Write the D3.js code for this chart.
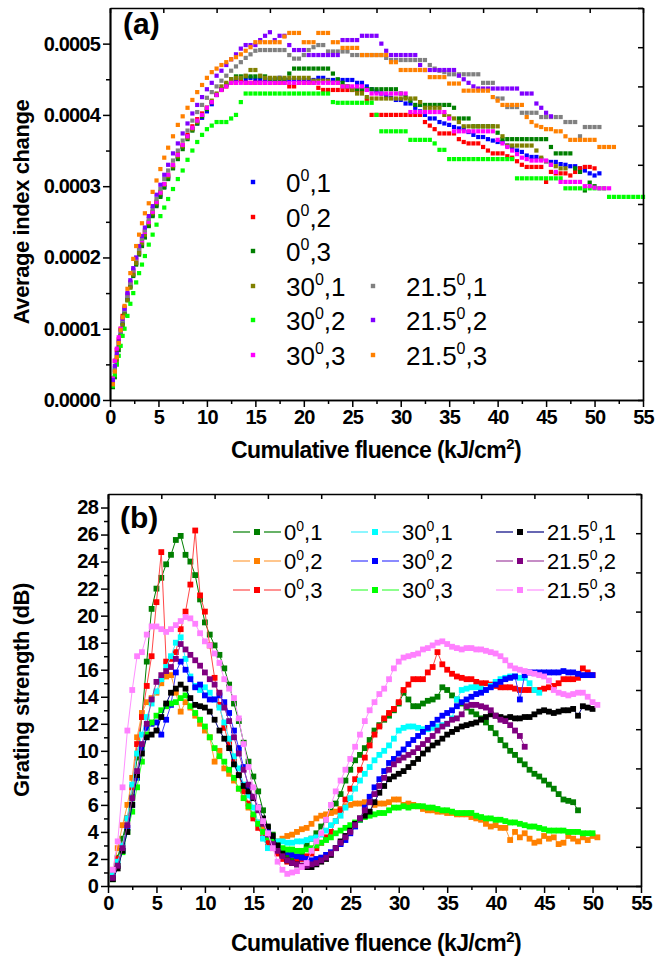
<!DOCTYPE html>
<html><head><meta charset="utf-8">
<script src="https://cdn.jsdelivr.net/npm/d3@7"></script>
<style>
body{margin:0;background:#fff}
svg{display:block;background:#fff}
text{font-family:"Liberation Sans",Arial,sans-serif;fill:#000}
</style></head>
<body><svg id="c" width="655" height="958"></svg>
<script>
// ---------------- Panel (a) data: average index change, units of 1e-6 ----------------
const fluenceA = [0.3,0.5,0.7,0.9,1.1,1.3,1.5,1.8,2.1,2.4,2.7,3.0,3.3,3.6,4.0,4.4,4.8,5.2,5.6,6.0,6.5,7.0,7.5,8.0,8.5,9.0,9.5,10.0,
10.5,11,11.5,12,12.5,13,13.5,14,14.5,15,15.5,16,16.5,17,17.5,18,18.5,19,19.5,20,20.5,21,21.5,22,22.5,23,23.5,24,24.5,25,
25.5,26,26.5,27,27.5,28,28.5,29,29.5,30,30.5,31,31.5,32,32.5,33,33.5,34,34.5,35,35.5,36,36.5,37,37.5,38,38.5,39,39.5,40,
40.5,41,41.5,42,42.5,43,43.5,44,44.5,45,45.5,46,46.5,47,47.5,48,48.5,49,49.5,50,50.5,51,51.5,52,52.5,53,53.5,54,54.5,55];

const idxA0_1 = [25,42,58,75,92,108,122,142,160,176,192,206,218,230,246,260,274,287,299,312,326,341,355,370,380,388,396,405,
415,428,436,442,447,449,449,449,452,449,449,449,449,449,452,449,449,449,449,449,449,449,452,452,449,449,449,449,449,449,
445,445,440,436,433,430,427,424,421,421,416,416,410,405,400,395,395,390,388,386,383,381,381,376,372,369,369,366,364,362,
362,357,353,350,348,343,341,341,338,335,334,334,331,330,328,328,325,322,318,315,318];
const idxA0_2 = [30,55,70,85,100,118,130,148,165,180,196,210,222,236,250,264,278,292,303,316,330,345,358,372,384,394,402,410,
418,428,435,440,445,445,448,445,445,445,445,445,445,445,445,445,440,440,445,445,445,445,438,435,435,435,435,435,435,435,
435,435,420,400,400,400,400,400,400,400,400,400,400,400,390,385,380,374,374,374,374,366,362,360,360,360,355,350,346,346,
346,342,340,335,330,327,327,327,327,306,320,318,318,318,315,320,325,327,327,325];
const idxA0_3 = [18,32,50,70,90,105,120,140,158,174,190,204,216,228,244,258,272,285,298,310,325,338,352,366,378,388,398,408,
418,428,436,443,450,454,454,454,454,454,454,454,450,450,450,450,458,465,465,465,465,465,465,465,465,458,450,445,440,436,
436,436,436,436,436,436,436,436,436,430,425,420,414,414,414,414,414,414,414,414,410,395,395,395,384,384,384,384,384,375,
366,366,366,366,366,366,366,366,366,366,355,346,346,346,346,325,320,294,305,300];
const idxA30_1 = [22,40,56,74,90,106,120,140,158,176,192,206,220,232,248,262,276,290,302,314,328,342,356,368,380,390,400,410,
420,430,440,445,450,452,452,455,463,463,455,452,452,452,452,452,452,452,452,452,452,448,448,448,448,445,445,440,440,435,
430,430,425,423,423,423,423,423,423,423,423,423,423,418,410,410,410,410,400,398,395,390,384,384,384,384,384,384,384,384,
370,357,357,357,357,357,357,350,340,335,330,328,325,325];
const idxA30_2 = [20,35,50,62,76,90,100,118,135,150,165,178,190,202,218,232,246,258,270,282,296,310,322,337,350,362,372,380,
385,390,390,390,395,400,418,430,430,430,430,430,430,430,430,430,430,430,430,430,430,430,430,430,430,418,417,417,417,417,
417,417,417,417,400,377,377,377,377,377,377,365,365,365,365,365,360,351,351,338,338,338,338,338,338,338,338,338,338,338,
338,338,338,311,311,311,311,311,311,311,311,311,311,297,297,297,297,297,297,297,297,297,285,285,285,285,285,285,285,285];
const idxA30_3 = [30,55,72,88,100,115,128,148,165,182,198,212,224,236,250,264,278,291,303,316,330,344,358,370,382,392,400,410,
418,428,435,440,445,445,445,445,445,445,445,445,445,445,445,445,445,445,445,445,445,445,445,445,445,445,445,440,440,440,
440,440,435,430,430,430,430,430,430,430,430,404,404,404,404,404,404,404,404,395,377,377,377,377,377,377,377,377,377,365,
360,355,350,345,340,338,336,336,336,336,330,320,306,306,306,306,306,300,300,298,297,297,297];
const idxA215_1 = [28,45,62,80,96,112,126,146,164,182,198,212,226,238,254,268,282,296,310,322,336,350,364,378,392,404,414,424,
432,440,448,455,462,468,474,480,485,490,491,491,491,491,491,491,484,479,479,484,491,495,498,498,489,489,489,489,489,484,
484,484,484,484,484,484,480,477,477,477,477,477,477,477,477,470,465,462,460,457,457,457,457,457,457,457,445,445,445,423,
423,411,411,411,403,403,403,403,397,397,397,397,397,390,390,390,370,383,383,383,383];
const idxA215_2 = [28,48,65,82,98,114,128,150,168,185,200,216,230,242,258,272,288,302,316,330,346,360,374,388,402,414,425,436,
445,455,462,470,478,485,493,498,498,498,505,511,516,505,511,511,498,491,491,491,484,484,484,484,484,484,484,505,505,505,
505,511,511,511,511,500,490,484,484,484,484,484,484,470,463,463,463,463,463,463,463,455,450,445,440,437,437,437,437,437,
437,437,437,437,430,430,430,416,410,403,398];
const idxA215_3 = [22,40,60,80,98,116,132,156,178,198,216,232,248,262,276,292,308,324,340,354,370,386,398,410,421,432,442,452,
460,465,470,474,478,481,485,490,495,502,502,502,502,502,502,510,515,515,515,502,502,502,515,515,515,502,502,494,494,494,
494,484,484,484,484,484,484,474,474,463,463,463,463,463,463,453,453,453,453,444,444,444,434,434,434,434,434,434,425,420,
414,414,414,414,414,397,390,385,383,380,380,377,377,370,365,365,365,365,365,365,355,355,355,355];

const seriesA = [idxA0_1, idxA0_2, idxA0_3, idxA30_1, idxA30_2, idxA30_3, idxA215_1, idxA215_2, idxA215_3];
const angleA = ["0","0","0","30","30","30","21.5","21.5","21.5"];
const runA = ["1","2","3","1","2","3","1","2","3"];
const colorsA = ["#0000ff","#ff0000","#007f00","#808000","#00ff00","#ff00ff","#808080","#8000ff","#ff8000"];

const xTicksA = [0,5,10,15,20,25,30,35,40,45,50,55];
const xTickLabelsA = ["0","5","10","15","20","25","30","35","40","45","50","55"];
const xMinorA = [2.5,7.5,12.5,17.5,22.5,27.5,32.5,37.5,42.5,47.5,52.5];
const yTicksA = [0,100,200,300,400,500];
const yTickLabelsA = ["0.0000","0.0001","0.0002","0.0003","0.0004","0.0005"];
const yMinorA = [50,150,250,350,450];
const topTicksA = [0,5.5,11,16.5,22,27.5,33,38.5,44,49.5,55];
const rightTicksA = [0,55,110,165,220,275,330,385,440,495,550];

// ---------------- Panel (b) data: grating strength (dB) ----------------
const fluenceB = [0.5,1,1.5,2,2.5,3,3.5,4,4.5,5,5.5,6,6.5,7,7.5,8,8.5,9,9.5,10,10.5,11,11.5,12,12.5,13,13.5,14,14.5,15,
15.5,16,16.5,17,17.5,18,18.5,19,19.5,20,20.5,21,21.5,22,22.5,23,23.5,24,24.5,25,25.5,26,26.5,27,27.5,28,28.5,29,29.5,30,
30.5,31,31.5,32,32.5,33,33.5,34,34.5,35,35.5,36,36.5,37,37.5,38,38.5,39,39.5,40,40.5,41,41.5,42,42.5,43,43.5,44,44.5,45,
45.5,46,46.5,47,47.5,48,48.5,49,49.5,50,50.5,51];

const gsB0_1 = [0.8,2.1,3.5,5.0,6.6,9.5,12.5,16.6,20.5,22.0,22.8,23.8,24.5,25.6,25.9,24.5,24.0,23.0,21.2,19.5,
18.6,17.8,17.1,16.1,14.9,13.5,12.2,10.6,9.2,8.1,7.0,5.6,4.3,3.8,3.0,2.3,2.1,1.9,2.1,2.5,
3.0,3.5,3.9,4.4,4.9,5.5,6.1,6.8,7.8,8.6,9.3,9.7,10.2,10.8,11.5,11.9,12.3,12.6,13.0,13.5,
14.3,13.8,13.3,13.3,13.5,13.7,13.8,14.0,14.7,14.5,14.1,13.8,13.5,13.2,12.9,12.7,12.4,12.1,11.7,11.3,
10.8,10.4,10.0,9.7,9.3,9.0,8.6,8.3,8.1,7.8,7.5,7.2,6.8,6.4,6.3,6.2,5.6];
const gsB0_2 = [1.2,2.8,4.5,6.0,8.0,11.0,12.8,13.6,13.9,14.3,15.0,15.5,15.6,14.3,12.9,13.6,13.2,12.6,12.0,11.5,
11.0,9.2,10.0,8.7,8.3,7.8,7.2,6.5,5.8,5.2,4.7,4.3,4.0,3.5,3.3,3.5,3.7,3.8,4.0,4.2,
4.3,4.6,5.0,5.2,5.3,5.4,5.5,5.7,5.9,6.0,6.1,6.1,6.2,6.2,6.0,6.1,6.1,6.2,6.4,6.4,
6.0,6.1,6.0,5.9,5.7,5.6,5.6,5.5,5.5,5.4,5.4,5.3,5.3,5.3,5.1,5.0,4.9,4.6,4.4,4.5,
4.3,4.3,3.4,4.0,3.6,3.9,3.5,3.2,3.3,3.7,3.5,3.6,3.1,3.2,3.7,3.5,3.3,3.6,3.4,3.7,3.6];
const gsB0_3 = [1.0,2.0,3.0,5.0,7.3,10.5,12.5,14.8,17.0,21.0,24.7,16.6,16.8,17.3,19.0,20.3,22.3,26.3,21.5,20.3,
17.8,15.4,13.4,11.7,10.5,9.4,8.2,7.0,6.1,5.0,4.3,3.6,3.2,2.8,2.4,2.0,1.8,1.7,1.8,2.0,
2.2,2.4,2.8,3.2,3.6,4.0,4.8,5.6,6.4,7.2,7.9,8.6,9.5,10.4,11.2,11.8,12.4,12.8,13.1,13.6,
14.5,14.9,15.3,15.3,15.3,15.8,16.2,17.3,16.4,16.0,15.7,15.5,15.4,15.3,15.3,15.1,15.0,15.0,14.9,14.8,
14.7,14.7,14.7,14.6,14.5,14.5,14.5,14.5,14.5,14.6,14.7,14.8,15.0,15.3,15.3,15.3,15.4,16.1,15.8,15.6];
const gsB30_1 = [0.8,1.8,3.0,5.0,7.5,9.8,11.2,12.5,13.5,14.4,15.3,16.2,17.0,18.0,18.4,16.8,15.5,14.8,14.5,14.7,
14.3,13.8,13.2,12.1,10.9,9.6,8.7,7.5,6.7,5.8,4.7,3.5,2.8,3.0,3.3,3.3,3.2,3.2,3.3,3.3,
3.4,3.5,3.6,3.8,4.1,4.5,4.8,5.2,5.8,6.5,7.2,7.8,8.3,8.8,9.3,9.7,10.0,10.4,10.9,11.5,
11.7,11.8,11.8,11.7,11.6,11.6,11.7,11.8,11.9,12.0,12.4,13.8,14.5,14.6,14.7,14.7,14.6,14.5,14.8,15.1,
15.3,15.4,15.5,15.5,15.4,15.4,15.0,14.5,14.3];
const gsB30_2 = [0.6,1.5,2.6,4.3,6.0,8.0,10.2,11.7,12.0,12.1,11.2,12.3,13.4,15.8,16.6,16.0,15.3,14.7,14.9,14.1,
13.8,13.8,14.1,13.6,12.8,11.5,10.2,8.8,7.3,6.6,5.8,4.9,4.0,3.3,2.9,2.7,2.5,2.3,2.2,2.1,
2.0,1.9,2.0,2.1,2.3,2.5,2.8,3.1,3.4,3.9,4.4,4.9,5.8,6.6,7.3,7.9,8.5,9.1,9.4,9.8,
10.1,10.5,10.8,11.1,11.4,11.7,12.0,12.3,12.6,12.8,13.0,13.3,13.6,13.8,14.0,14.2,14.3,14.5,14.7,14.9,
15.1,15.3,15.4,15.5,13.8,15.6,15.8,15.8,15.8,15.8,15.8,15.8,15.8,15.9,15.8,15.8,15.7,15.6,15.6,15.6];
const gsB30_3 = [0.5,1.5,2.5,4.0,5.5,7.3,9.2,11.2,12.1,12.6,13.0,13.3,13.5,13.6,13.9,14.1,13.3,12.8,12.3,11.8,
11.0,10.2,9.6,9.2,8.6,8.0,7.2,6.5,5.9,5.3,4.6,4.0,3.6,3.3,3.0,2.8,2.7,2.7,2.6,2.6,
2.7,2.8,3.0,3.2,3.4,3.6,3.9,4.1,4.3,4.5,4.7,4.9,5.1,5.2,5.3,5.4,5.4,5.6,5.8,5.8,
5.9,5.8,5.9,5.9,5.9,5.8,5.8,5.7,5.6,5.6,5.5,5.4,5.4,5.4,5.4,5.2,5.1,5.0,5.0,4.9,
4.9,4.8,4.7,4.7,4.6,4.5,4.4,4.4,4.3,4.2,4.1,4.1,4.1,4.1,4.0,4.0,4.0,3.9,3.9,3.9];
const gsB215_1 = [0.5,1.3,2.6,4.0,6.0,8.2,9.8,11.0,11.2,11.5,12.5,13.5,14.3,14.6,14.9,14.6,13.9,13.4,13.3,13.2,
12.9,12.3,11.5,10.9,10.2,9.0,8.2,7.4,7.0,6.5,5.8,5.0,4.4,3.7,3.0,2.4,1.9,1.7,1.6,1.5,
1.4,1.4,1.6,1.8,2.0,2.3,2.8,3.3,3.7,4.1,4.6,5.0,5.2,5.5,6.2,6.9,7.4,7.9,8.1,8.3,
8.5,8.8,9.1,9.4,9.8,10.1,10.4,10.6,10.9,11.2,11.4,11.6,11.8,11.9,12.0,12.1,12.3,12.5,12.7,12.6,
12.5,12.4,12.5,12.4,12.4,12.5,12.5,12.7,12.9,13.0,12.9,12.8,12.9,13.0,13.0,13.1,12.6,13.3,13.2,13.1];
const gsB215_2 = [0.6,1.5,2.8,4.5,6.5,8.5,10.5,12.0,13.8,15.1,15.6,15.9,16.2,16.8,17.9,17.5,17.1,16.7,16.3,15.8,
15.3,14.9,14.3,13.2,12.2,11.0,9.8,8.6,7.5,6.6,5.6,4.6,3.8,3.1,2.6,2.2,1.9,1.7,1.6,1.5,
1.5,1.6,1.7,1.9,2.1,2.4,2.8,3.2,3.6,4.0,4.5,5.0,5.6,6.2,6.8,7.4,8.0,8.6,9.0,9.3,
9.5,9.7,9.9,10.2,10.5,10.8,11.1,11.5,11.8,12.0,12.3,12.4,12.7,13.3,13.4,13.4,13.3,13.2,13.0,12.6,
12.3,12.2,11.9,11.5,11.1,10.3];
const gsB215_3 = [1.2,3.3,7.3,11.5,14.5,17.0,17.3,18.6,19.2,19.2,19.0,18.8,19.0,19.3,19.6,19.9,19.8,19.4,18.7,18.1,
17.8,17.2,16.5,15.3,14.6,13.9,12.4,10.5,8.8,7.3,5.8,4.8,3.9,2.8,1.8,1.2,0.9,1.0,1.1,1.4,
1.7,2.6,3.3,3.9,4.9,6.0,7.0,7.8,8.6,9.4,10.3,11.2,12.2,13.0,13.6,14.2,14.6,15.3,16.1,16.6,
16.9,17.0,17.1,17.2,17.5,17.6,17.8,18.0,18.1,17.9,17.7,17.6,17.5,17.6,17.6,17.5,17.5,17.4,17.3,17.2,
17.0,16.7,16.3,16.1,16.0,15.9,15.8,15.7,15.6,15.5,15.2,14.5,14.3,14.2,14.1,14.2,14.3,14.3,14.0,13.6,13.4];

const seriesB = [gsB0_1, gsB0_2, gsB0_3, gsB30_1, gsB30_2, gsB30_3, gsB215_1, gsB215_2, gsB215_3];
const angleB = ["0","0","0","30","30","30","21.5","21.5","21.5"];
const runB = ["1","2","3","1","2","3","1","2","3"];
const markerColorsB = ["#007f00","#ff8000","#ff0000","#00ffff","#0000ff","#00ff00","#000000","#800080","#ff80ff"];
const lineColorsB = ["#007f00","#ffa040","#ff4848","#40f0ff","#3c3cff","#40ff40","#000080","#a040a0","#ff90ff"];

const xTicksB = [0,5,10,15,20,25,30,35,40,45,50,55];
const xTickLabelsB = ["0","5","10","15","20","25","30","35","40","45","50","55"];
const xMinorB = [2.5,7.5,12.5,17.5,22.5,27.5,32.5,37.5,42.5,47.5,52.5];
const yTicksB = [0,2,4,6,8,10,12,14,16,18,20,22,24,26,28];
const yTickLabelsB = ["0","2","4","6","8","10","12","14","16","18","20","22","24","26","28"];
const yMinorB = [1,3,5,7,9,11,13,15,17,19,21,23,25,27];
const topTicksB = [0,5.5,11,16.5,22,27.5,33,38.5,44,49.5,55];
const rightTicksB = [0,2.9,5.8,8.7,11.6,14.5,17.4,20.3,23.2,26.1,29];

// ---------------- drawing ----------------
const svg = d3.select("#c");
const FONT_TICK = 20;

function supLabel(g, x, y, base, sup, rest, size, supSize, rise, weight, anchor) {
  const t = g.append("text").attr("x", x).attr("y", y)
    .style("font-size", size + "px").style("font-weight", weight || "normal")
    .attr("text-anchor", anchor || "start");
  t.append("tspan").text(base);
  t.append("tspan").attr("dy", -rise).style("font-size", supSize + "px").text(sup);
  t.append("tspan").attr("dy", rise).text(rest);
  return t;
}

function frame(g, x, y, cfg) {
  const [x0, x1] = x.range(), [y0, y1] = y.range();
  const styleAxis = sel => {
    sel.selectAll("path.domain").attr("stroke", "#000").attr("stroke-width", 1.7);
    sel.selectAll(".tick line").attr("stroke", "#000").attr("stroke-width", 1.5);
  };
  const styleText = sel => sel.selectAll("text").style("font-size", FONT_TICK + "px").style("font-weight", "bold")
    .attr("fill", "#000").style("font-family", '"Liberation Sans",Arial,sans-serif').style("letter-spacing", "-0.8px");
  g.append("g").attr("transform", `translate(0,${y0})`)
    .call(d3.axisBottom(x).tickValues(cfg.xMinor).tickSize(4).tickSizeOuter(0).tickFormat(""))
    .call(styleAxis);
  g.append("g").attr("transform", `translate(0,${y0})`)
    .call(d3.axisBottom(x).tickValues(cfg.xTicks).tickSize(7).tickSizeOuter(0).tickPadding(3)
      .tickFormat((d, i) => cfg.xLabels[i]))
    .call(styleAxis).call(styleText);
  g.append("g").attr("transform", `translate(${x0},0)`)
    .call(d3.axisLeft(y).tickValues(cfg.yMinor).tickSize(4).tickSizeOuter(0).tickFormat(""))
    .call(styleAxis);
  g.append("g").attr("transform", `translate(${x0},0)`)
    .call(d3.axisLeft(y).tickValues(cfg.yTicks).tickSize(7).tickSizeOuter(0).tickPadding(3)
      .tickFormat((d, i) => cfg.yLabels[i]))
    .call(styleAxis).call(styleText);
  g.append("g").attr("transform", `translate(0,${y1})`)
    .call(d3.axisTop(x).tickValues(cfg.topTicks).tickSize(-5).tickSizeOuter(0).tickFormat(""))
    .call(styleAxis);
  g.append("g").attr("transform", `translate(${x1},0)`)
    .call(d3.axisRight(y).tickValues(cfg.rightTicks).tickSize(-5).tickSizeOuter(0).tickFormat(""))
    .call(styleAxis);
}

// ---------- Panel (a) ----------
const xA = d3.scaleLinear().domain([0, 55]).range([110, 643]);
const yA = d3.scaleLinear().domain([0, 550]).range([400, 8]);
const gA = svg.append("g");

const markA = 4.2;
seriesA.forEach((vals, s) => {
  const pts = vals.map((v, i) => [fluenceA[i], v]);
  gA.append("g").selectAll("rect").data(pts).join("rect")
    .attr("x", d => xA(d[0]) - markA / 2).attr("y", d => yA(d[1]) - markA / 2)
    .attr("width", markA).attr("height", markA).attr("fill", colorsA[s]);
});

frame(gA, xA, yA, {xTicks: xTicksA, xLabels: xTickLabelsA, xMinor: xMinorA,
  yTicks: yTicksA, yLabels: yTickLabelsA, yMinor: yMinorA, topTicks: topTicksA, rightTicks: rightTicksA});

gA.append("text").attr("x", 123).attr("y", 34).style("font-size", "30px").style("font-weight", "bold").text("(a)");

// legend (a)
const legAx = [253, 253, 253, 253, 253, 253, 373, 373, 373];
const legAy = [182, 217, 251, 286, 320, 355, 286, 320, 355];
seriesA.forEach((vals, s) => {
  gA.append("rect").attr("x", legAx[s] - 2.2).attr("y", legAy[s] - 2.2).attr("width", 4.4).attr("height", 4.4)
    .attr("fill", colorsA[s]);
  supLabel(gA, legAx[s] + 33, legAy[s] + 10, angleA[s], "0", "," + runA[s], 26, 16, 11, "normal");
});

// axis titles (a)
supLabel(gA, 376, 458, "Cumulative fluence (kJ/cm", "2", ")", 23, 15, 9, "bold", "middle")
  .style("letter-spacing", "-0.6px");
gA.append("text").attr("transform", "translate(29,212) rotate(-90)").attr("text-anchor", "middle")
  .style("font-size", "22px").style("font-weight", "bold").style("letter-spacing", "-0.4px").text("Average index change");

// ---------- Panel (b) ----------
const xB = d3.scaleLinear().domain([0, 55]).range([108, 641]);
const yB = d3.scaleLinear().domain([0, 29]).range([886, 494]);
const gB = svg.append("g");
const line = d3.line().x(d => xB(d[0])).y(d => yB(d[1]));
const markB = 5.8;
seriesB.forEach((vals, s) => {
  const pts = vals.map((v, i) => [fluenceB[i], v]);
  const gs = gB.append("g");
  gs.append("path").attr("d", line(pts)).attr("fill", "none").attr("stroke", lineColorsB[s]).attr("stroke-width", 1);
  gs.selectAll("rect").data(pts).join("rect")
    .attr("x", d => xB(d[0]) - markB / 2).attr("y", d => yB(d[1]) - markB / 2)
    .attr("width", markB).attr("height", markB).attr("fill", markerColorsB[s]);
});

frame(gB, xB, yB, {xTicks: xTicksB, xLabels: xTickLabelsB, xMinor: xMinorB,
  yTicks: yTicksB, yLabels: yTickLabelsB, yMinor: yMinorB, topTicks: topTicksB, rightTicks: rightTicksB});

gB.append("text").attr("x", 120).attr("y", 528).style("font-size", "30px").style("font-weight", "bold").text("(b)");

// legend (b)
const legBx = [257, 257, 257, 375, 375, 375, 520, 520, 520];
const legBy = [532, 561, 590, 532, 561, 590, 532, 561, 590];
seriesB.forEach((vals, s) => {
  const cx = legBx[s], cy = legBy[s];
  gB.append("line").attr("x1", cx - 24).attr("x2", cx - 7).attr("y1", cy).attr("y2", cy)
    .attr("stroke", lineColorsB[s]).attr("stroke-width", 1.2);
  gB.append("line").attr("x1", cx + 7).attr("x2", cx + 24).attr("y1", cy).attr("y2", cy)
    .attr("stroke", lineColorsB[s]).attr("stroke-width", 1.2);
  gB.append("rect").attr("x", cx - 3).attr("y", cy - 3).attr("width", 6).attr("height", 6).attr("fill", markerColorsB[s]);
  supLabel(gB, cx + 27, cy + 8, angleB[s], "0", "," + runB[s], 22, 14, 9, "normal");
});

supLabel(gB, 376, 951, "Cumulative fluence (kJ/cm", "2", ")", 23, 15, 9, "bold", "middle")
  .style("letter-spacing", "-0.6px");
gB.append("text").attr("transform", "translate(29,690) rotate(-90)").attr("text-anchor", "middle")
  .style("font-size", "22px").style("font-weight", "bold").style("letter-spacing", "-0.4px").text("Grating strength (dB)");
</script>
</body></html>
